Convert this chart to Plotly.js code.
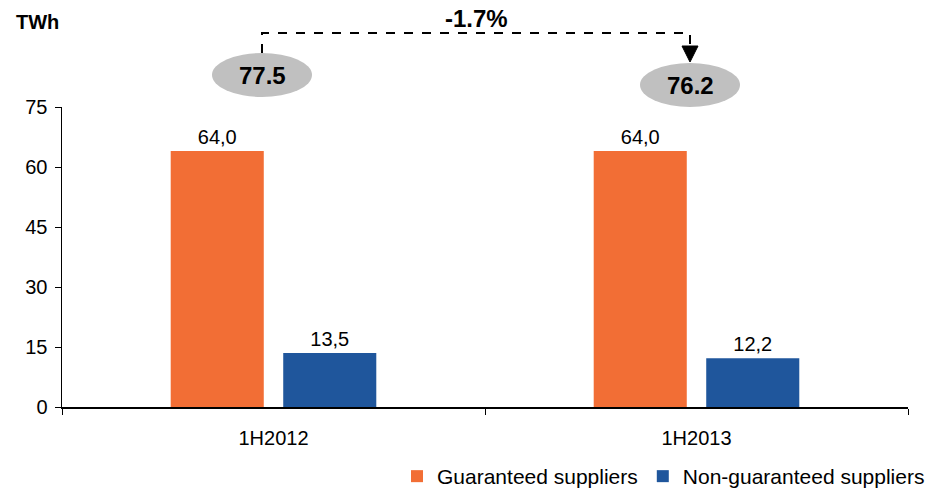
<!DOCTYPE html>
<html>
<head>
<meta charset="utf-8">
<script src="https://cdn.plot.ly/plotly-3.0.1.min.js"></script>
<style>
  html, body { margin: 0; padding: 0; background: #fff; }
  #chart { width: 928px; height: 490px; }
</style>
</head>
<body>
<div id="chart"></div>
<script>
// Half-year electricity volumes by supplier type (TWh)
const periods = ['1H2012', '1H2013'];
const guaranteed = [64.0, 64.0];
const nonGuaranteed = [13.5, 12.2];
const seriesNames = ['Guaranteed suppliers', 'Non-guaranteed suppliers'];
const unitLabel = 'TWh';

const totals = periods.map((_, i) => guaranteed[i] + nonGuaranteed[i]);
const change = (totals[1] - totals[0]) / totals[0] * 100;

const FONT = 'Liberation Sans, Arial, sans-serif';
const W = 928, H = 490;
const M = { l: 62, r: 20, t: 107, b: 83, autoexpand: false };
const plotW = W - M.l - M.r, plotH = H - M.t - M.b;
// pixel -> paper helpers for the callout decorations above the plot
const px = x => (x - M.l) / plotW;
const py = y => (H - M.b - y) / plotH;

const traces = [
  {
    type: 'bar', name: seriesNames[0], x: periods, y: guaranteed,
    marker: { color: '#F26E35' },
    texttemplate: '%{y:.1f}', textposition: 'outside',
    textfont: { family: FONT, size: 20, color: '#000' },
    cliponaxis: false, hoverinfo: 'skip'
  },
  {
    type: 'bar', name: seriesNames[1], x: periods, y: nonGuaranteed,
    marker: { color: '#1F569C' },
    texttemplate: '%{y:.1f}', textposition: 'outside',
    textfont: { family: FONT, size: 20, color: '#000' },
    cliponaxis: false, hoverinfo: 'skip'
  }
];

// Grey ellipses with the period totals
const ell = [
  { cx: 262, cy: 75, w: 100, h: 44 },
  { cx: 690, cy: 85, w: 100, h: 44 }
];
const shapes = ell.map(e => ({
  type: 'circle', xref: 'paper', yref: 'paper',
  x0: px(e.cx - e.w / 2), x1: px(e.cx + e.w / 2),
  y0: py(e.cy + e.h / 2), y1: py(e.cy - e.h / 2),
  fillcolor: '#C0C0C0', line: { width: 0 }, layer: 'above'
}));

// Dashed connector from the first total to the second
const lineY = 33;
shapes.push({
  type: 'path', xref: 'paper', yref: 'paper',
  path: `M${px(262)},${py(ell[0].cy - ell[0].h / 2)} L${px(262)},${py(lineY)} L${px(690)},${py(lineY)} L${px(690)},${py(48)}`,
  line: { color: '#000', width: 2, dash: 'dash' }
});
// Arrow head
shapes.push({
  type: 'path', xref: 'paper', yref: 'paper',
  path: `M${px(682)},${py(46)} L${px(698)},${py(46)} L${px(690)},${py(62)} Z`,
  fillcolor: '#000', line: { color: '#000', width: 1 }
});

const annotations = [
  {
    xref: 'paper', yref: 'paper', x: px(ell[0].cx), y: py(ell[0].cy),
    text: '<b>' + totals[0].toFixed(1) + '</b>', showarrow: false,
    font: { family: FONT, size: 24, color: '#000' }, xanchor: 'center', yanchor: 'middle'
  },
  {
    xref: 'paper', yref: 'paper', x: px(ell[1].cx), y: py(ell[1].cy),
    text: '<b>' + totals[1].toFixed(1) + '</b>', showarrow: false,
    font: { family: FONT, size: 24, color: '#000' }, xanchor: 'center', yanchor: 'middle'
  },
  {
    xref: 'paper', yref: 'paper', x: px(476), y: py(18),
    text: '<b>' + change.toFixed(1) + '%</b>', showarrow: false,
    font: { family: FONT, size: 24, color: '#000' }, xanchor: 'center', yanchor: 'middle'
  },
  {
    xref: 'paper', yref: 'paper', x: px(14), y: py(22),
    text: '<b>' + unitLabel + '</b>', showarrow: false,
    font: { family: FONT, size: 20, color: '#000' }, xanchor: 'left', yanchor: 'middle'
  }
];

const layout = {
  width: W, height: H,
  margin: M,
  paper_bgcolor: '#fff', plot_bgcolor: '#fff',
  separators: ',.',
  font: { family: FONT, size: 20, color: '#000' },
  barmode: 'group', bargap: 0.468, bargroupgap: 0.173,
  showlegend: true,
  legend: {
    orientation: 'h', x: px(930), xanchor: 'right', y: py(456), yanchor: 'top',
    font: { family: FONT, size: 21, color: '#000' },
    traceorder: 'normal', itemwidth: 30, bgcolor: 'rgba(0,0,0,0)'
  },
  xaxis: {
    type: 'category', showline: true, linecolor: '#000', linewidth: 1.5,
    ticks: 'outside', tickson: 'boundaries', ticklen: 6, tickcolor: '#000',
    ticklabelstandoff: 12,
    showgrid: false, zeroline: false, fixedrange: true,
    tickfont: { family: FONT, size: 20, color: '#000' }
  },
  yaxis: {
    range: [0, 75], dtick: 15, tick0: 0, showline: true, linecolor: '#000', linewidth: 1.5,
    ticks: 'outside', ticklen: 6, tickcolor: '#000', ticklabelstandoff: 3,
    showgrid: false, zeroline: false,
    fixedrange: true, tickfont: { family: FONT, size: 20, color: '#000' }
  },
  shapes: shapes,
  annotations: annotations
};

Plotly.newPlot('chart', traces, layout, { displayModeBar: false, staticPlot: true });
</script>
</body>
</html>
